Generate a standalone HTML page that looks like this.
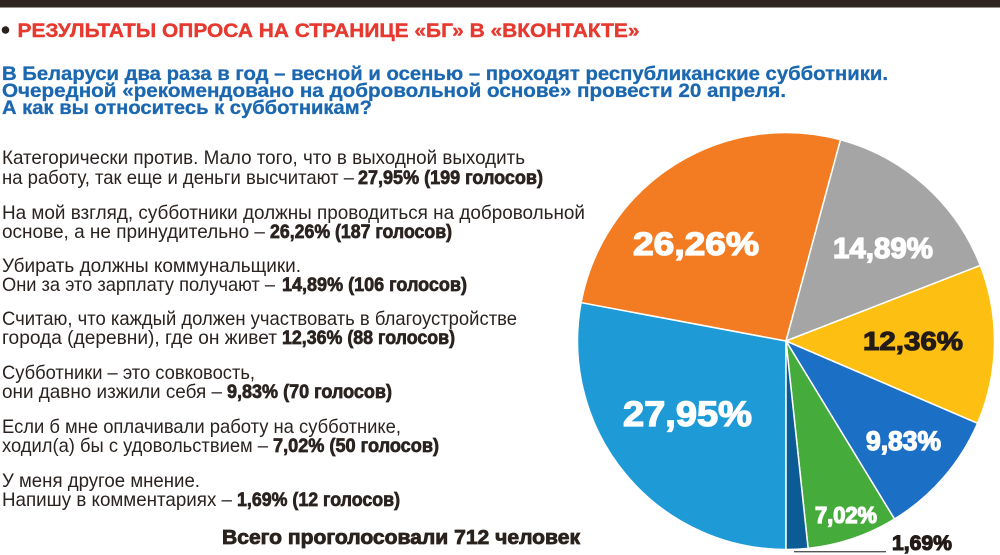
<!DOCTYPE html>
<html><head><meta charset="utf-8"><style>
html,body{margin:0;padding:0;background:#fff;}
svg{display:block;}
text{font-family:"Liberation Sans","DejaVu Sans",sans-serif;}
.n{font-size:19.2px;fill:#2a2320;}
.b{font-size:19.2px;fill:#2a2320;font-weight:bold;stroke:#2a2320;stroke-width:0.7px;}
.q{font-size:19.8px;fill:#1b68b0;font-weight:bold;stroke:#1b68b0;stroke-width:0.3px;}
.w{fill:#fff;font-weight:bold;stroke:#fff;stroke-width:1.3px;}
.k{fill:#231b17;font-weight:bold;stroke:#231b17;stroke-width:1.1px;}
</style></head><body>
<svg width="1000" height="555" viewBox="0 0 1000 555" xmlns="http://www.w3.org/2000/svg">
<rect x="0" y="0" width="1000" height="7.5" fill="#30261f"/>
<circle cx="5.5" cy="30" r="3.8" fill="#2a211c"/>
<text x="17.5" y="37" font-size="19.5" font-weight="bold" fill="#e6392f" stroke="#e6392f" stroke-width="0.4" textLength="622" lengthAdjust="spacingAndGlyphs">РЕЗУЛЬТАТЫ ОПРОСА НА СТРАНИЦЕ «БГ» В «ВКОНТАКТЕ»</text>

<text class="q" x="2" y="80" textLength="886" lengthAdjust="spacingAndGlyphs">В Беларуси два раза в год – весной и осенью – проходят республиканские субботники.</text>
<text class="q" x="2" y="97" textLength="784" lengthAdjust="spacingAndGlyphs">Очередной «рекомендовано на добровольной основе» провести 20 апреля.</text>
<text class="q" x="2" y="114" textLength="370" lengthAdjust="spacingAndGlyphs">А как вы относитесь к субботникам?</text>

<text class="n" x="2" y="164" textLength="523" lengthAdjust="spacingAndGlyphs">Категорически против. Мало того, что в выходной выходить</text>
<text class="n" x="2" y="184" textLength="352" lengthAdjust="spacingAndGlyphs">на работу, так еще и деньги высчитают –</text>
<text class="b" x="358" y="184" textLength="185" lengthAdjust="spacingAndGlyphs">27,95% (199 голосов)</text>

<text class="n" x="2" y="219" textLength="583" lengthAdjust="spacingAndGlyphs">На мой взгляд, субботники должны проводиться на добровольной</text>
<text class="n" x="2" y="238" textLength="263" lengthAdjust="spacingAndGlyphs">основе, а не принудительно –</text>
<text class="b" x="270" y="238" textLength="182" lengthAdjust="spacingAndGlyphs">26,26% (187 голосов)</text>

<text class="n" x="2" y="272" textLength="299" lengthAdjust="spacingAndGlyphs">Убирать должны коммунальщики.</text>
<text class="n" x="2" y="291" textLength="273" lengthAdjust="spacingAndGlyphs">Они за это зарплату получают –</text>
<text class="b" x="282" y="291" textLength="185" lengthAdjust="spacingAndGlyphs">14,89% (106 голосов)</text>

<text class="n" x="2" y="325" textLength="515" lengthAdjust="spacingAndGlyphs">Считаю, что каждый должен участвовать в благоустройстве</text>
<text class="n" x="2" y="344" textLength="275" lengthAdjust="spacingAndGlyphs">города (деревни), где он живет</text>
<text class="b" x="282" y="344" textLength="173" lengthAdjust="spacingAndGlyphs">12,36% (88 голосов)</text>

<text class="n" x="2" y="379" textLength="253" lengthAdjust="spacingAndGlyphs">Субботники – это совковость,</text>
<text class="n" x="2" y="398" textLength="220" lengthAdjust="spacingAndGlyphs">они давно изжили себя –</text>
<text class="b" x="227" y="398" textLength="165" lengthAdjust="spacingAndGlyphs">9,83% (70 голосов)</text>

<text class="n" x="2" y="433" textLength="399" lengthAdjust="spacingAndGlyphs">Если б мне оплачивали работу на субботнике,</text>
<text class="n" x="2" y="452" textLength="266" lengthAdjust="spacingAndGlyphs">ходил(а) бы с удовольствием –</text>
<text class="b" x="273" y="452" textLength="166" lengthAdjust="spacingAndGlyphs">7,02% (50 голосов)</text>

<text class="n" x="2" y="487" textLength="198" lengthAdjust="spacingAndGlyphs">У меня другое мнение.</text>
<text class="n" x="2" y="506" textLength="230" lengthAdjust="spacingAndGlyphs">Напишу в комментариях –</text>
<text class="b" x="237" y="506" textLength="163" lengthAdjust="spacingAndGlyphs">1,69% (12 голосов)</text>

<text x="222" y="544" font-size="20" font-weight="bold" fill="#2a221d" stroke="#2a221d" stroke-width="0.8" textLength="358" lengthAdjust="spacingAndGlyphs">Всего проголосовали 712 человек</text>

<g stroke="#fff" stroke-width="1.5" stroke-linejoin="round">
<path d="M786 341 L786 549.5 A208.5 208.5 0 0 1 581.07 302.57 Z" fill="#1e9bd7"/>
<path d="M786 341 L581.07 302.57 A208.5 208.5 0 0 1 840.52 139.75 Z" fill="#f37b21"/>
<path d="M786 341 L840.52 139.75 A208.5 208.5 0 0 1 980.33 265.47 Z" fill="#a5a5a5"/>
<path d="M786 341 L980.33 265.47 A208.5 208.5 0 0 1 977.56 423.32 Z" fill="#fcbf12"/>
<path d="M786 341 L977.56 423.32 A208.5 208.5 0 0 1 894.48 519.05 Z" fill="#1b70c6"/>
<path d="M786 341 L894.48 519.05 A208.5 208.5 0 0 1 808.10 548.33 Z" fill="#45ac3b"/>
<path d="M786 341 L808.10 548.33 A208.5 208.5 0 0 1 786 549.5 Z" fill="#0b5c95"/>
</g>

<text class="w" x="633" y="255" font-size="32" textLength="126" lengthAdjust="spacingAndGlyphs">26,26%</text>
<text class="w" x="833" y="258" font-size="29" textLength="100" lengthAdjust="spacingAndGlyphs">14,89%</text>
<text class="k" x="863" y="350" font-size="26" textLength="100" lengthAdjust="spacingAndGlyphs">12,36%</text>
<text class="w" x="623" y="426" font-size="35" textLength="129" lengthAdjust="spacingAndGlyphs">27,95%</text>
<text class="w" x="866" y="450" font-size="27" textLength="75" lengthAdjust="spacingAndGlyphs">9,83%</text>
<text class="w" x="815" y="523" font-size="23" textLength="62" lengthAdjust="spacingAndGlyphs">7,02%</text>
<text class="k" x="892" y="550" font-size="21" textLength="60" lengthAdjust="spacingAndGlyphs">1,69%</text>
<line x1="794" y1="551.7" x2="886" y2="551.7" stroke="#555" stroke-width="1.3"/>
</svg>
</body></html>
